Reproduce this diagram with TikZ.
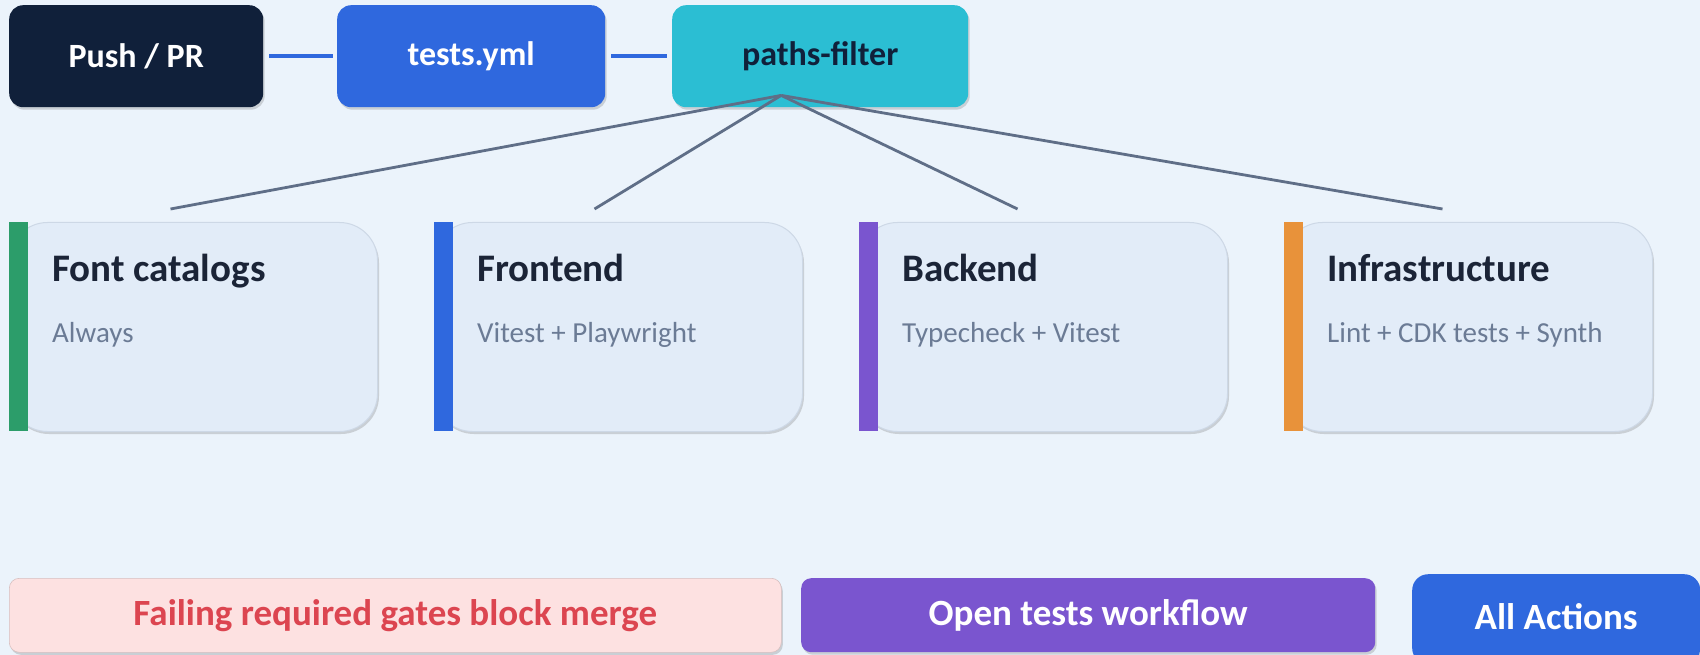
\documentclass[tikz,border=0pt]{standalone}
\usepackage{fontspec}
\setmainfont{Carlito}
\usetikzlibrary{shadows,calc}

\definecolor{pagebg}{HTML}{EBF3FB}
\definecolor{navy}{HTML}{10203A}
\definecolor{actblue}{HTML}{2F68DE}
\definecolor{cyanbox}{HTML}{2BBED3}
\definecolor{cardfill}{HTML}{E2ECF8}
\definecolor{cardline}{HTML}{CDD8E6}
\definecolor{slate}{HTML}{5F6E87}
\definecolor{titleink}{HTML}{1B2437}
\definecolor{subink}{HTML}{6B7B95}
\definecolor{gatesgreen}{HTML}{2C9D6A}
\definecolor{gatespurple}{HTML}{7A55CF}
\definecolor{gatesorange}{HTML}{E8923A}
\definecolor{warnfill}{HTML}{FDE1E1}
\definecolor{warnink}{HTML}{DC4550}

\begin{document}
\begin{tikzpicture}[x=1pt,y=-1pt,
  softshadow/.style={drop shadow={shadow xshift=1.5pt,shadow yshift=-2.5pt,opacity=0.28,fill=black!55}},
  stage/.style={rounded corners=14pt,inner sep=0pt,minimum height=102pt,anchor=north west,
    font=\fontsize{34}{40}\selectfont\bfseries,softshadow},
  card/.style={draw=cardline,line width=1pt,fill=cardfill,rounded corners=38pt,inner sep=0pt,
    minimum width=368pt,minimum height=209pt,anchor=north west,softshadow},
  cardtitle/.style={anchor=base west,inner sep=0pt,text=titleink,font=\fontsize{39}{44}\selectfont\bfseries},
  cardsub/.style={anchor=base west,inner sep=0pt,text=subink,font=\fontsize{29}{34}\selectfont},
  button/.style={rounded corners=10pt,inner sep=0pt,anchor=north west,
    font=\fontsize{37}{42}\selectfont\bfseries,softshadow},
  pipe/.style={draw=actblue,line width=4.5pt},
  fan/.style={draw=slate,line width=2.8pt}]

\fill[pagebg] (0,0) rectangle (1700,655);
\useasboundingbox (0,0) rectangle (1700,655);
\clip (0,0) rectangle (1700,655);

% trigger chain
\node[stage,fill=navy,text=white,minimum width=254pt] (push) at (9,5) {Push / PR};
\node[stage,fill=actblue,text=white,minimum width=268pt] (tests) at (337,5) {tests.yml};
\node[stage,fill=cyanbox,text=navy,minimum width=296pt] (paths) at (672,5) {paths-filter};
\draw[pipe,shorten <=6pt,shorten >=4pt] (push.east) -- (tests.west);
\draw[pipe,shorten <=6pt,shorten >=5pt] (tests.east) -- (paths.west);

% gated suites
\node[card] (font) at (9,222) {};
\node[card] (front) at (434,222) {};
\node[card] (back) at (859,222) {};
\node[card] (infra) at (1284,222) {};

\fill[gatesgreen]  (font.north west)  rectangle ++(19,209);
\fill[actblue]     (front.north west) rectangle ++(19,209);
\fill[gatespurple] (back.north west)  rectangle ++(19,209);
\fill[gatesorange] (infra.north west) rectangle ++(19,209);

\node[cardtitle] (fontT)  at ($(font.north west)+(43,59)$)  {Font catalogs};
\node[cardsub]   (fontS)  at ($(font.north west)+(43,120)$) {Always};
\node[cardtitle] (frontT) at ($(front.north west)+(43,59)$)  {Frontend};
\node[cardsub]   (frontS) at ($(front.north west)+(43,120)$) {Vitest + Playwright};
\node[cardtitle] (backT)  at ($(back.north west)+(43,59)$)  {Backend};
\node[cardsub]   (backS)  at ($(back.north west)+(43,120)$) {Typecheck + Vitest};
\node[cardtitle] (infraT) at ($(infra.north west)+(43,59)$)  {Infrastructure};
\node[cardsub]   (infraS) at ($(infra.north west)+(43,120)$) {Lint + CDK tests + Synth};

% fan-out from the filter
\coordinate (hub) at ($(paths.south)+(-39,-12)$);
\coordinate (fontIn)  at ($(font.north)+(-23,-13)$);
\coordinate (frontIn) at ($(front.north)+(-24,-13)$);
\coordinate (backIn)  at ($(back.north)+(-26,-13)$);
\coordinate (infraIn) at ($(infra.north)+(-26,-13)$);
\draw[fan] (hub) -- (fontIn);
\draw[fan] (hub) -- (frontIn);
\draw[fan] (hub) -- (backIn);
\draw[fan] (hub) -- (infraIn);

% footer
\node[button,fill=warnfill,draw=warnfill!85!black,line width=0.6pt,text=warnink,
  minimum width=772pt,minimum height=74pt] (warn) at (9,578) {Failing required gates block merge};
\node[button,fill=gatespurple,text=white,minimum width=574pt,minimum height=74pt] (open) at (801,578) {Open tests workflow};
\node[button,fill=actblue,text=white,rounded corners=16pt,minimum width=288pt,minimum height=90pt] (all) at (1412,574) {\raisebox{6pt}{All Actions}};
\end{tikzpicture}
\end{document}
